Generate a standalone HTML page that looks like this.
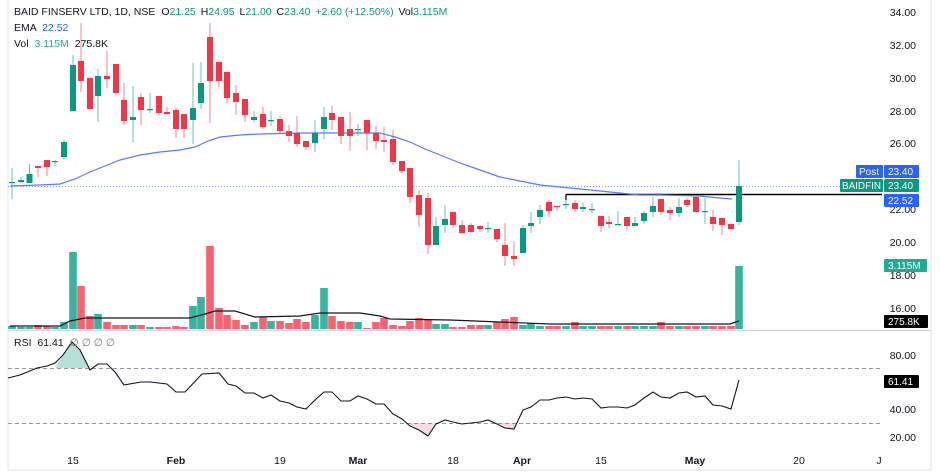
<!DOCTYPE html>
<html><head><meta charset="utf-8"><style>
html,body{margin:0;padding:0;background:#fff;width:940px;height:474px;overflow:hidden}
svg{display:block;font-family:"Liberation Sans",sans-serif}
</style></head><body>
<svg id="s" width="940" height="474" viewBox="0 0 940 474" xmlns="http://www.w3.org/2000/svg">
<rect width="940" height="474" fill="#fff"/>
<line x1="8" y1="0" x2="8" y2="470" stroke="#e0e3eb"/>
<line x1="931" y1="0" x2="931" y2="470" stroke="#e0e3eb"/>
<line x1="8" y1="470" x2="931" y2="470" stroke="#e0e3eb"/>
<line x1="8" y1="330.5" x2="931" y2="330.5" stroke="#d1d4dc"/>
<g id="g"></g>
<g font-size="10.5" fill="#131722">
<text x="14" y="15">BAID FINSERV LTD, 1D, NSE <tspan dx="3">O</tspan><tspan fill="#089981">21.25</tspan> <tspan dx="2">H</tspan><tspan fill="#089981">24.95</tspan> <tspan dx="2">L</tspan><tspan fill="#089981">21.00</tspan> <tspan dx="2">C</tspan><tspan fill="#089981">23.40</tspan> <tspan fill="#089981" dx="2">+2.60 (+12.50%)</tspan> <tspan dx="2">Vol</tspan><tspan fill="#089981">3.115M</tspan></text>
<text x="14" y="31">EMA <tspan fill="#2962ff" dx="3">22.52</tspan></text>
<text x="14" y="47">Vol <tspan fill="#22ab94" dx="3">3.115M</tspan> <tspan dx="3">275.8K</tspan></text>
<text x="14" y="346">RSI <tspan dx="3">61.41</tspan> <tspan dx="3" fill="#787b86">∅ ∅ ∅ ∅</tspan></text>
</g>
<g font-size="10.5" fill="#131722" text-anchor="end">
<text x="916" y="16">34.00</text><text x="916" y="49">32.00</text><text x="916" y="82">30.00</text><text x="916" y="115">28.00</text><text x="916" y="147">26.00</text><text x="916" y="213">22.00</text><text x="916" y="246">20.00</text><text x="916" y="279">18.00</text><text x="916" y="312">16.00</text>
<text x="916" y="359">80.00</text><text x="916" y="413">40.00</text><text x="916" y="441">20.00</text>
</g>
<g font-size="10.5" fill="#131722" text-anchor="middle">
<text x="73" y="464">15</text><text x="176" y="464" font-weight="bold">Feb</text><text x="280" y="464">19</text><text x="358" y="464" font-weight="bold">Mar</text><text x="453" y="464">18</text><text x="522" y="464" font-weight="bold">Apr</text><text x="601" y="464">15</text><text x="695" y="464" font-weight="bold">May</text><text x="799" y="464">20</text><text x="879" y="464">J</text>
</g>
<g font-size="10" fill="#fff">
<rect x="856" y="165" width="27" height="13" rx="1" fill="#2962ff"/><text x="859" y="175">Post</text>
<rect x="884" y="165" width="35" height="13" rx="1" fill="#2962ff"/><text x="888" y="175">23.40</text>
<rect x="840" y="179" width="43" height="13" rx="1" fill="#089981"/><text x="842" y="189" textLength="39" lengthAdjust="spacingAndGlyphs">BAIDFIN</text>
<rect x="884" y="179" width="35" height="13" rx="1" fill="#089981"/><text x="888" y="189">23.40</text>
<rect x="884" y="194" width="35" height="13" rx="1" fill="#2962ff"/><text x="888" y="204">22.52</text>
<rect x="884" y="259" width="43" height="13" rx="1" fill="#22ab94"/><text x="888" y="269">3.115M</text>
<rect x="884" y="315" width="44" height="13" rx="1" fill="#000"/><text x="888" y="325">275.8K</text>
<rect x="884" y="375" width="35" height="13" rx="1" fill="#000"/><text x="888" y="385">61.41</text>
</g>
</svg>
<script>
var C=[[12,182,183,168,199,1],[21,180,182,177,183,1],[29.5,174,183,164,183,1],[38,166,168,166,177,0],[47,160,167,160,176,0],[55,161,162,160,166,1],[64,142,157,140,159,1],[73,65,111,55,111,1],[81,61,81,23,92,0],[90,78,109,78,110,0],[98,76,96,69,122,1],[107,76,79,51,88,0],[116,64,93,64,95,0],[124,100,121,83,125,0],[133,117,120,86,142,1],[141,97,110,93,125,0],[150,109,110,93,113,1],[159,96,113,96,115,0],[167,112,114,107,115,0],[176,110,129,108,138,0],[184,114,129,114,138,0],[193,108,120,63,144,1],[201,83,103,62,109,1],[210,37,81,23,123,0],[219,62,81,62,87,0],[227,72,98,72,103,0],[236,93,102,85,115,0],[245,99,115,99,122,0],[254,117,120,111,122,1],[263,114,127,107,129,0],[271,120,121,111,126,1],[280,119,131,116,133,0],[289,131,136,125,142,0],[297,133,144,116,147,0],[306,141,147,141,150,0],[315,133,143,120,152,1],[324,117,129,107,139,1],[332,113,120,106,130,0],[341,117,136,117,144,0],[350,129,136,112,151,0],[358,129,130,124,136,1],[367,120,133,120,150,0],[376,133,141,126,149,0],[384,140,142,127,152,0],[393,139,162,130,165,0],[402,161,171,161,173,0],[410,168,197,168,203,0],[419,195,215,190,227,0],[428,198,245,193,254,0],[436,226,245,217,245,1],[445,219,225,205,233,1],[453,212,225,212,228,0],[462,225,233,220,233,0],[471,225,232,223,233,0],[480,226,229,225,232,0],[488,228,229,222,233,1],[497,229,239,229,242,0],[505,245,256,223,266,0],[514,256,259,241,266,0],[523,228,253,225,253,1],[531,223,226,212,233,1],[540,210,217,205,224,1],[549,202,211,200,217,0],[557,206,207,206,211,0],[566,204,205,195,209,1],[575,203,209,200,212,0],[583,207,209,203,212,1],[592,209,210,203,213,1],[601,216,226,216,232,0],[609,222,224,216,228,0],[618,224,225,211,225,1],[627,217,226,217,230,0],[635,223,226,217,226,1],[644,213,221,211,224,1],[653,206,212,197,217,1],[661,199,212,199,215,0],[670,210,213,207,220,0],[679,207,213,198,217,1],[687,200,205,198,207,0],[696,197,212,196,213,0],[705,211,212,198,224,1],[713,217,224,210,231,0],[722,218,225,218,235,0],[731,224,229,224,229,0],[739,186,222,160,225,1]];
var V={0:326,1:327,2:327,3:325,4:326,5:327,6:322,7:252,8:286,9:316,10:314,11:322,12:325,13:325,14:325,15:325,16:327,17:327,18:327,19:326,20:327,21:306,22:297,23:246,24:308,25:315,26:320,27:325,28:322,29:317,30:321,31:321,32:323,33:319,34:322,35:315,36:288,37:316,38:321,39:322,40:322,41:328,42:322,43:318,44:325,45:326,46:321,47:318,48:319,49:324,50:324,51:327,52:327,56:322,57:319,58:317,59:325,60:323,65:322,75:322,84:266};
var NS="http://www.w3.org/2000/svg",g=document.getElementById('g');
function el(t,a){var e=document.createElementNS(NS,t);for(var k in a)e.setAttribute(k,a[k]);g.appendChild(e);return e;}
el('line',{x1:8,y1:368.5,x2:882,y2:368.5,stroke:'#9598a1','stroke-dasharray':'4,3'});
el('line',{x1:8,y1:423.5,x2:882,y2:423.5,stroke:'#9598a1','stroke-dasharray':'4,3'});
el('polygon',{points:'55,368 63,355 72,342 80,350 88,368',fill:'rgba(8,153,129,0.3)'});
el('polygon',{points:'408,423 419,430 428,436 436,423',fill:'rgba(242,54,69,0.18)'});
el('polygon',{points:'500,423 505,428 514,429 518,423',fill:'rgba(242,54,69,0.18)'});
el('line',{x1:8,y1:186.5,x2:882,y2:186.5,stroke:'#2962ff','stroke-dasharray':'1,2','stroke-opacity':0.6});
el('line',{x1:566,y1:194.5,x2:882,y2:194.5,stroke:'#000','stroke-width':1.5});
el('line',{x1:566,y1:194.5,x2:566,y2:200,stroke:'#000','stroke-width':1.5});
C.forEach(function(c,i){var t=V[i]||(i>52&&i<56?325:(i>60&&i<84?326:325));el('rect',{x:c[0]-3.8,y:t,width:7.6,height:329-t,fill:c[5]?'#22ab94':'#f7525f','fill-opacity':0.9});});
el('polyline',{points:'10,326 60,326 70,321 85,318 120,318 190,318 205,314 215,311 235,311 255,317 300,316 320,313 360,313 380,316 390,319 450,320 500,322 550,324 730,324 739,321',fill:'none',stroke:'#131722','stroke-width':1.2});
el('polyline',{points:'10,186 40,185 60,184 75,179 90,172 105,166 120,160 140,155 160,152 180,150 195,147 208,141 220,137 240,135 260,134 300,133 340,133 380,133 395,137 410,142 425,149 440,155 460,163 480,170 500,177 520,181 540,185 560,187 580,189 600,191 620,193 640,195 660,195 700,196 720,198 732,199',fill:'none',stroke:'#5b7cf6','stroke-width':1.2});
C.forEach(function(c){var col=c[5]?'#089981':'#f23645';el('line',{x1:c[0],y1:c[3],x2:c[0],y2:c[4],stroke:col,'stroke-opacity':0.6});var h=Math.max(1.2,c[2]-c[1]);el('rect',{x:c[0]-3,y:c[1],width:6,height:h,fill:col});});
el('polyline',{points:'8,378 20,375 37,368 47,366 55,363 63,355 72,342 80,350 90,370 98,364 107,364 115,372 124,385 141,382 150,382 167,384 176,392 185,392 202,374 219,373 228,384 236,386 245,393 254,393 263,398 271,395 280,401 289,403 297,407 306,409 315,400 324,392 332,392 341,401 350,401 358,396 367,399 376,404 384,404 393,414 402,419 410,426 419,430 428,436 436,424 445,420 453,422 462,424 471,423 480,422 488,420 497,424 505,428 514,429 523,410 531,407 540,400 549,400 557,398 566,397 575,399 583,398 592,399 601,408 609,407 618,407 627,408 635,405 644,398 653,392 661,397 670,398 679,393 687,392 696,397 705,396 713,405 722,406 731,409 739,380',fill:'none',stroke:'#131722','stroke-width':1.1});
</script>
</body></html>
